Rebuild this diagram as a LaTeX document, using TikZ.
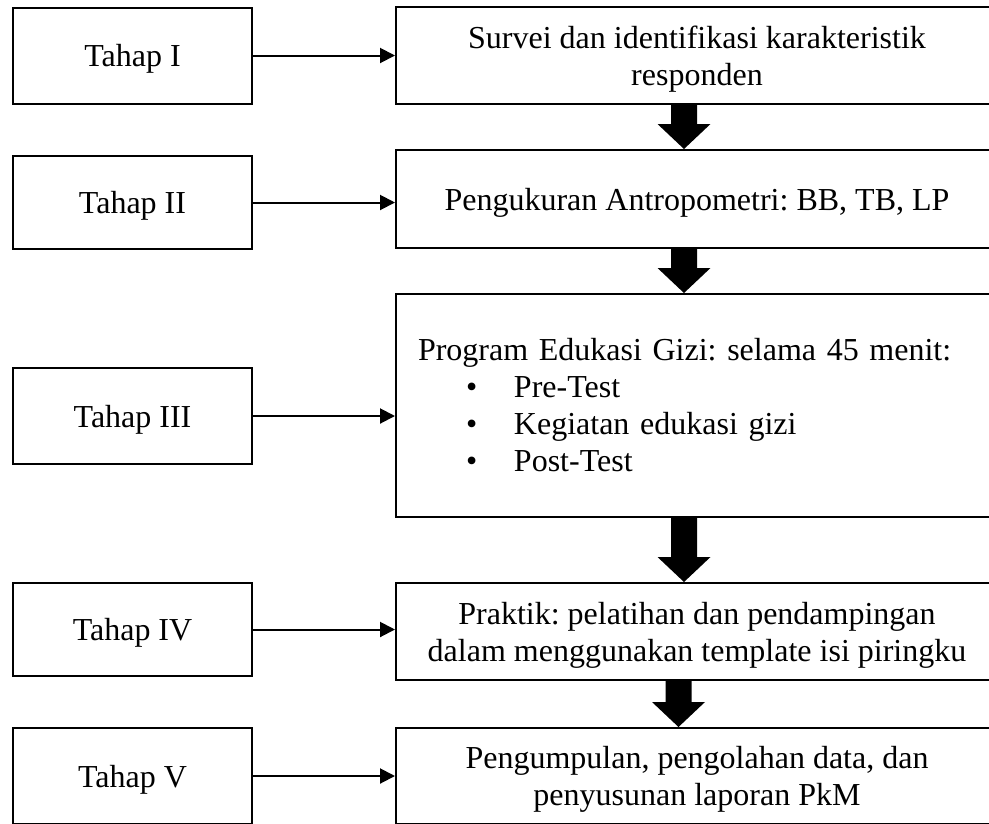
\documentclass[tikz,border=0pt]{standalone}
\usepackage{fontspec}
\setmainfont{Liberation Serif}
\usetikzlibrary{calc}
\usetikzlibrary{arrows.meta}

\begin{document}
\frenchspacing
\begin{tikzpicture}[x=1pt,y=1pt]
        \tikzstyle{tahap} = [rectangle, draw, line width=2pt, minimum width=239pt, inner sep=0pt, text depth=0pt, font=\fontsize{32}{37}\selectfont]
        \tikzstyle{isi} = [rectangle, draw, line width=2pt, minimum width=602pt, inner sep=0pt, text depth=0pt, align=center, font=\fontsize{32}{37}\selectfont]
        \tikzstyle{panah} = [line width=2pt, -{Triangle[length=15pt, width=15pt]}]
        \useasboundingbox (0,0) rectangle (989,-823);

        \foreach \i/\r/\y/\h in {1/I/55.5/96, 2/II/202.5/93, 3/III/416/96, 4/IV/629.5/93, 5/V/776/96}
        {
                \node[tahap, minimum height=\h pt] (t\i) at (132.5,-\y) {Tahap \r};
        }

        \node[isi, minimum height=97pt] (k1) at (697,-55.5) {Survei dan identifikasi karakteristik\\responden};
        \node[isi, minimum height=98pt] (k2) at (697,-199) {Pengukuran Antropometri: BB, TB, LP};
        \node[isi, minimum height=223pt, text width=558pt, text depth=, inner xsep=22pt, align=left] (k3) at (697,-405.5)
                {Program Edukasi Gizi: selama 45 menit:\\
                 \hspace*{48pt}\makebox[48pt][l]{\textbullet}Pre-Test\\
                 \hspace*{48pt}\makebox[48pt][l]{\textbullet}Kegiatan edukasi gizi\\
                 \hspace*{48pt}\makebox[48pt][l]{\textbullet}Post-Test};
        \node[isi, minimum height=97pt] (k4) at (697,-631.5) {Praktik: pelatihan dan pendampingan\\dalam menggunakan template isi piringku};
        \node[isi, minimum height=96pt] (k5) at (697,-776) {Pengumpulan, pengolahan data, dan\\penyusunan laporan PkM};

        \foreach \i in {1,...,5}
                \draw[panah] (t\i.east) -- (t\i.east -| k\i.west);

        % panah tebal antar kegiatan
        \foreach \a/\b/\dx in {1/2/-13, 2/3/-13, 3/4/-13, 4/5/-18.5}
        {
                \coordinate (s) at ($(k\a.south)+(\dx,0)$);
                \coordinate (e) at (s |- k\b.north);
                \fill ($(s)+(-13,0)$) -- ($(s)+(13,0)$) -- ($(e)+(13,25)$) -- ($(e)+(26.5,25)$) -- (e)
                        -- ($(e)+(-26.5,25)$) -- ($(e)+(-13,25)$) -- cycle;
        }
\end{tikzpicture}
\end{document}
